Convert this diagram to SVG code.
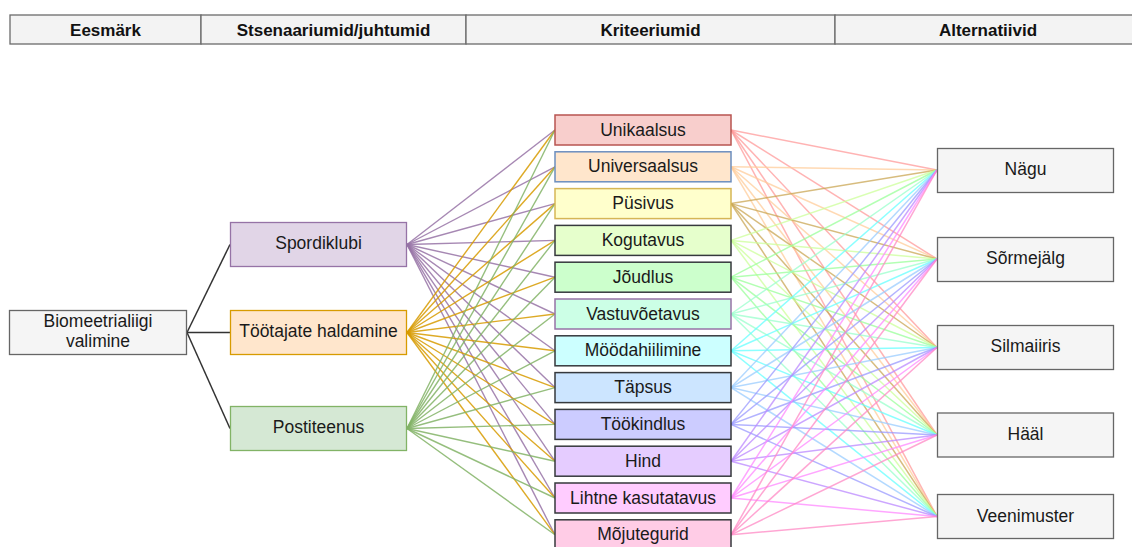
<svg xmlns="http://www.w3.org/2000/svg" width="1132" height="547" viewBox="0 0 1132 547">
<style>
text{font-family:"Liberation Sans",Arial,sans-serif;font-size:17.5px;fill:#1a1a1a;text-anchor:middle;dominant-baseline:central}
.hd text{font-weight:bold;font-size:17px;fill:#111}
.hd rect{fill:#f3f3f3;stroke:#6b6b6b;stroke-width:1.3}
.alt rect{fill:#f5f5f5;stroke:#666;stroke-width:1.3}
.k{stroke:#333;stroke-width:1.5}
.ln line{fill:none;stroke-width:1.4;stroke-opacity:0.85}
.sp{stroke:#9673a6}.tt{stroke:#d79b00}.po{stroke:#82b366}
.r line{stroke-width:1.5;stroke-opacity:0.75}
.c rect{stroke-width:1.5}
</style>
<g id="header" class="hd">
<rect x="10" y="15" width="191" height="29"/>
<rect x="201" y="15" width="265" height="29"/>
<rect x="466" y="15" width="369" height="29"/>
<rect x="835" y="15" width="300" height="29"/>
<text x="105.5" y="30">Eesmärk</text>
<text x="333.5" y="30">Stsenaariumid/juhtumid</text>
<text x="650.5" y="30">Kriteeriumid</text>
<text x="988" y="30">Alternatiivid</text>
</g>
<g id="connectors">
<g class="k">
<line x1="187" y1="332.5" x2="230" y2="244.5"/>
<line x1="187" y1="332.5" x2="230" y2="332.5"/>
<line x1="187" y1="332.5" x2="230" y2="428.5"/>
</g>
<g class="ln">
<g class="sp">
<line x1="407" y1="244.5" x2="555" y2="130"/><line x1="407" y1="244.5" x2="555" y2="166.8"/><line x1="407" y1="244.5" x2="555" y2="203.6"/><line x1="407" y1="244.5" x2="555" y2="240.4"/><line x1="407" y1="244.5" x2="555" y2="277.2"/><line x1="407" y1="244.5" x2="555" y2="314"/><line x1="407" y1="244.5" x2="555" y2="350.8"/><line x1="407" y1="244.5" x2="555" y2="387.6"/><line x1="407" y1="244.5" x2="555" y2="424.4"/><line x1="407" y1="244.5" x2="555" y2="461.2"/><line x1="407" y1="244.5" x2="555" y2="498"/><line x1="407" y1="244.5" x2="555" y2="534.8"/>
</g>
<g class="tt">
<line x1="407" y1="332.5" x2="555" y2="130"/><line x1="407" y1="332.5" x2="555" y2="166.8"/><line x1="407" y1="332.5" x2="555" y2="203.6"/><line x1="407" y1="332.5" x2="555" y2="240.4"/><line x1="407" y1="332.5" x2="555" y2="277.2"/><line x1="407" y1="332.5" x2="555" y2="314"/><line x1="407" y1="332.5" x2="555" y2="350.8"/><line x1="407" y1="332.5" x2="555" y2="387.6"/><line x1="407" y1="332.5" x2="555" y2="424.4"/><line x1="407" y1="332.5" x2="555" y2="461.2"/><line x1="407" y1="332.5" x2="555" y2="498"/><line x1="407" y1="332.5" x2="555" y2="534.8"/>
</g>
<g class="po">
<line x1="407" y1="428.5" x2="555" y2="130"/><line x1="407" y1="428.5" x2="555" y2="166.8"/><line x1="407" y1="428.5" x2="555" y2="203.6"/><line x1="407" y1="428.5" x2="555" y2="240.4"/><line x1="407" y1="428.5" x2="555" y2="277.2"/><line x1="407" y1="428.5" x2="555" y2="314"/><line x1="407" y1="428.5" x2="555" y2="350.8"/><line x1="407" y1="428.5" x2="555" y2="387.6"/><line x1="407" y1="428.5" x2="555" y2="424.4"/><line x1="407" y1="428.5" x2="555" y2="461.2"/><line x1="407" y1="428.5" x2="555" y2="498"/><line x1="407" y1="428.5" x2="555" y2="534.8"/>
</g>
</g>
<g class="r">
<g stroke="#ff9999"><line x1="731" y1="130" x2="937" y2="170"/><line x1="731" y1="130" x2="937" y2="259"/><line x1="731" y1="130" x2="937" y2="347.5"/><line x1="731" y1="130" x2="937" y2="435"/><line x1="731" y1="130" x2="937" y2="516.5"/></g>
<g stroke="#ffcc99"><line x1="731" y1="166.8" x2="937" y2="170"/><line x1="731" y1="166.8" x2="937" y2="259"/><line x1="731" y1="166.8" x2="937" y2="347.5"/><line x1="731" y1="166.8" x2="937" y2="435"/><line x1="731" y1="166.8" x2="937" y2="516.5"/></g>
<g stroke="#c9a653"><line x1="731" y1="203.6" x2="937" y2="170"/><line x1="731" y1="203.6" x2="937" y2="259"/><line x1="731" y1="203.6" x2="937" y2="347.5"/><line x1="731" y1="203.6" x2="937" y2="435"/><line x1="731" y1="203.6" x2="937" y2="516.5"/></g>
<g stroke="#ccff99"><line x1="731" y1="240.4" x2="937" y2="170"/><line x1="731" y1="240.4" x2="937" y2="259"/><line x1="731" y1="240.4" x2="937" y2="347.5"/><line x1="731" y1="240.4" x2="937" y2="435"/><line x1="731" y1="240.4" x2="937" y2="516.5"/></g>
<g stroke="#99ff99"><line x1="731" y1="277.2" x2="937" y2="170"/><line x1="731" y1="277.2" x2="937" y2="259"/><line x1="731" y1="277.2" x2="937" y2="347.5"/><line x1="731" y1="277.2" x2="937" y2="435"/><line x1="731" y1="277.2" x2="937" y2="516.5"/></g>
<g stroke="#99ffcc"><line x1="731" y1="314" x2="937" y2="170"/><line x1="731" y1="314" x2="937" y2="259"/><line x1="731" y1="314" x2="937" y2="347.5"/><line x1="731" y1="314" x2="937" y2="435"/><line x1="731" y1="314" x2="937" y2="516.5"/></g>
<g stroke="#66ffff"><line x1="731" y1="350.8" x2="937" y2="170"/><line x1="731" y1="350.8" x2="937" y2="259"/><line x1="731" y1="350.8" x2="937" y2="347.5"/><line x1="731" y1="350.8" x2="937" y2="435"/><line x1="731" y1="350.8" x2="937" y2="516.5"/></g>
<g stroke="#99ccff"><line x1="731" y1="387.6" x2="937" y2="170"/><line x1="731" y1="387.6" x2="937" y2="259"/><line x1="731" y1="387.6" x2="937" y2="347.5"/><line x1="731" y1="387.6" x2="937" y2="435"/><line x1="731" y1="387.6" x2="937" y2="516.5"/></g>
<g stroke="#9999ff"><line x1="731" y1="424.4" x2="937" y2="170"/><line x1="731" y1="424.4" x2="937" y2="259"/><line x1="731" y1="424.4" x2="937" y2="347.5"/><line x1="731" y1="424.4" x2="937" y2="435"/><line x1="731" y1="424.4" x2="937" y2="516.5"/></g>
<g stroke="#bb88ff"><line x1="731" y1="461.2" x2="937" y2="170"/><line x1="731" y1="461.2" x2="937" y2="259"/><line x1="731" y1="461.2" x2="937" y2="347.5"/><line x1="731" y1="461.2" x2="937" y2="435"/><line x1="731" y1="461.2" x2="937" y2="516.5"/></g>
<g stroke="#ff88ff"><line x1="731" y1="498" x2="937" y2="170"/><line x1="731" y1="498" x2="937" y2="259"/><line x1="731" y1="498" x2="937" y2="347.5"/><line x1="731" y1="498" x2="937" y2="435"/><line x1="731" y1="498" x2="937" y2="516.5"/></g>
<g stroke="#ff88c4"><line x1="731" y1="534.8" x2="937" y2="170"/><line x1="731" y1="534.8" x2="937" y2="259"/><line x1="731" y1="534.8" x2="937" y2="347.5"/><line x1="731" y1="534.8" x2="937" y2="435"/><line x1="731" y1="534.8" x2="937" y2="516.5"/></g>
</g>
</g>
<g id="goal">
<rect x="9.5" y="310.5" width="177" height="44" fill="#f5f5f5" stroke="#666" stroke-width="1.3"/>
<text x="98" y="321">Biomeetrialiigi</text>
<text x="98" y="341">valimine</text>
</g>
<g id="spordiklubi"><rect x="230.5" y="222.5" width="176" height="44" fill="#e1d5e7" stroke="#9673a6" stroke-width="1.3"/><text x="318.5" y="243">Spordiklubi</text></g>
<g id="tootajate"><rect x="230.5" y="310.5" width="176" height="44" fill="#ffe6cc" stroke="#d79b00" stroke-width="1.3"/><text x="318.5" y="331">Töötajate haldamine</text></g>
<g id="postiteenus"><rect x="230.5" y="406.5" width="176" height="44" fill="#d5e8d4" stroke="#82b366" stroke-width="1.3"/><text x="318.5" y="427">Postiteenus</text></g>
<g class="c">
<g id="unikaalsus"><rect x="555" y="115" width="176" height="30" fill="#f8cecc" stroke="#b85450"/><text x="643" y="129.5">Unikaalsus</text></g>
<g id="universaalsus"><rect x="555" y="151.8" width="176" height="30" fill="#ffe6cc" stroke="#6c8ebf"/><text x="643" y="166.3">Universaalsus</text></g>
<g id="pusivus"><rect x="555" y="188.6" width="176" height="30" fill="#ffffcc" stroke="#d6b656"/><text x="643" y="203.1">Püsivus</text></g>
<g id="kogutavus"><rect x="555" y="225.4" width="176" height="30" fill="#e6ffcc" stroke="#36393d"/><text x="643" y="239.9">Kogutavus</text></g>
<g id="joudlus"><rect x="555" y="262.2" width="176" height="30" fill="#ccffcc" stroke="#36393d"/><text x="643" y="276.7">Jõudlus</text></g>
<g id="vastuvoetavus"><rect x="555" y="299" width="176" height="30" fill="#ccffe6" stroke="#9673a6"/><text x="643" y="313.5">Vastuvõetavus</text></g>
<g id="moodahiilimine"><rect x="555" y="335.8" width="176" height="30" fill="#ccffff" stroke="#36393d"/><text x="643" y="350.3">Möödahiilimine</text></g>
<g id="tapsus"><rect x="555" y="372.6" width="176" height="30" fill="#cce5ff" stroke="#36393d"/><text x="643" y="387.1">Täpsus</text></g>
<g id="tookindlus"><rect x="555" y="409.4" width="176" height="30" fill="#ccccff" stroke="#36393d"/><text x="643" y="423.9">Töökindlus</text></g>
<g id="hind"><rect x="555" y="446.2" width="176" height="30" fill="#e5ccff" stroke="#36393d"/><text x="643" y="460.7">Hind</text></g>
<g id="lihtne"><rect x="555" y="483" width="176" height="30" fill="#ffccff" stroke="#36393d"/><text x="643" y="497.5">Lihtne kasutatavus</text></g>
<g id="mojutegurid"><rect x="555" y="519.8" width="176" height="30" fill="#ffcce6" stroke="#36393d"/><text x="643" y="534.3">Mõjutegurid</text></g>
</g>
<g class="alt">
<g id="nagu"><rect x="937.5" y="148.5" width="176" height="44" /><text x="1025.5" y="169">Nägu</text></g>
<g id="sormejalg"><rect x="937.5" y="237.5" width="176" height="44" /><text x="1025.5" y="258">Sõrmejälg</text></g>
<g id="silmaiiris"><rect x="937.5" y="325.5" width="176" height="44" /><text x="1025.5" y="346">Silmaiiris</text></g>
<g id="haal"><rect x="937.5" y="413" width="176" height="44" /><text x="1025.5" y="434">Hääl</text></g>
<g id="veenimuster"><rect x="937.5" y="494.5" width="176" height="44" /><text x="1025.5" y="515.5">Veenimuster</text></g>
</g>
</svg>
